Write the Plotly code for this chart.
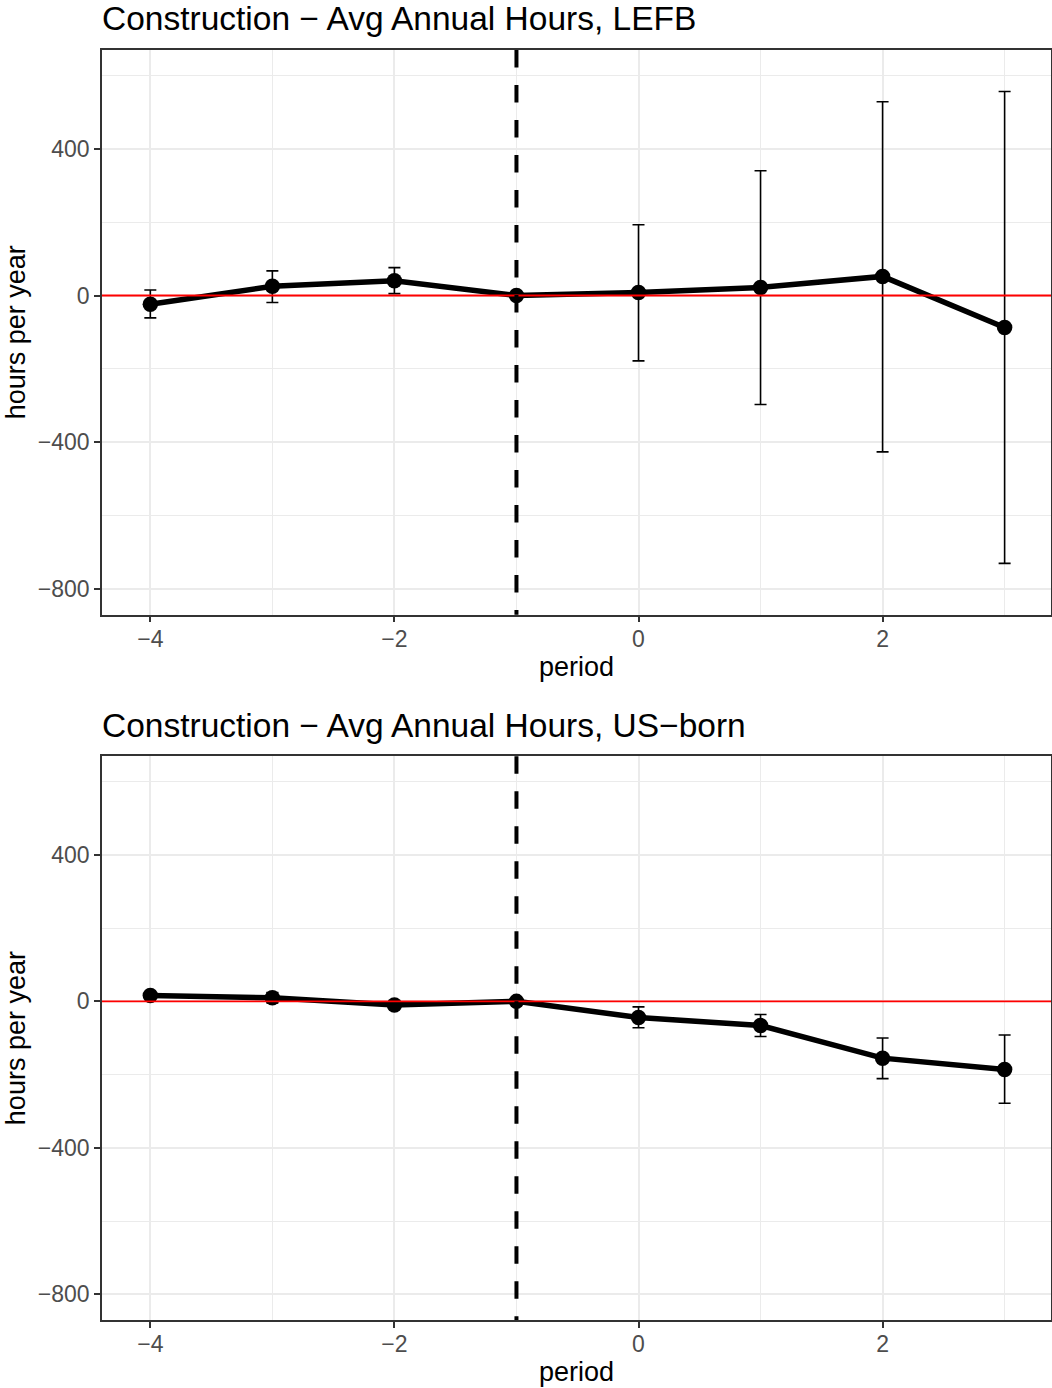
import plotly.graph_objects as go

# ---------------- data ----------------
periods = [-4, -3, -2, -1, 0, 1, 2, 3]

lefb_est = [-24, 25, 40, 0, 8, 22, 52, -87]
lefb_hi = [15, 67, 76, 0, 193, 340, 528, 556]
lefb_lo = [-61, -19, 5, 0, -178, -297, -426, -730]

usborn_est = [16, 10, -10, 0, -44, -66, -155, -186]
usborn_hi = [24, 24, 0, 0, -15, -36, -100, -92]
usborn_lo = [8, -4, -20, 0, -72, -96, -211, -278]

titles = ["Construction − Avg Annual Hours, LEFB",
          "Construction − Avg Annual Hours, US−born"]
x_title = "period"
y_title = "hours per year"

x_tickvals = [-4, -2, 0, 2]
x_ticktext = ["−4", "−2", "0", "2"]
y_tickvals = [-800, -400, 0, 400]
y_ticktext = ["−800", "−400", "0", "400"]
x_minor = [-3, -1, 1, 3]
y_minor = [-600, -200, 200, 600]

event_period = -1
zero_line = 0

x_range = [-4.396, 3.38]
y_range = [-869.8, 669]

# ---------------- figure ----------------
W, H = 1052, 1388
FONT = "Liberation Sans, Arial, sans-serif"

fig = go.Figure()

series = [(lefb_est, lefb_hi, lefb_lo), (usborn_est, usborn_hi, usborn_lo)]
for i, (est, hi, lo) in enumerate(series):
    ax = "" if i == 0 else "2"
    fig.add_trace(go.Scatter(
        x=periods, y=est, mode="lines+markers",
        line=dict(color="black", width=5.5),
        marker=dict(color="black", size=15.5),
        error_y=dict(type="data", symmetric=False,
                     array=[h - e for h, e in zip(hi, est)],
                     arrayminus=[e - l for e, l in zip(est, lo)],
                     color="black", thickness=1.6, width=6),
        xaxis="x" + ax, yaxis="y" + ax, showlegend=False, hoverinfo="skip"))

def px_x(p):
    return p / W

def px_y(p):
    return 1 - p / H

panels = [(50, 614.7), (756.3, 1320.0)]
x_dom = [px_x(102), px_x(1051)]

axis_common = dict(
    showline=True, mirror=True, linecolor="#333333", linewidth=1.5,
    ticks="outside", ticklen=6, tickwidth=1.5, tickcolor="#333333",
    tickfont=dict(family=FONT, size=23, color="#4D4D4D"),
    showgrid=True, gridcolor="#EBEBEB", gridwidth=2, zeroline=False,
)

layout = dict(
    width=W, height=H, margin=dict(l=0, r=0, t=0, b=0),
    paper_bgcolor="white", plot_bgcolor="white", showlegend=False,
    font=dict(family=FONT, color="black"),
)

shapes = []
annotations = []
for i, (top, bot) in enumerate(panels):
    ax = "" if i == 0 else "2"
    xa = dict(axis_common)
    xa.update(range=x_range, domain=x_dom, anchor="y" + ax,
              tickvals=x_tickvals, ticktext=x_ticktext, ticklabelstandoff=-3,
              minor=dict(tickvals=x_minor, showgrid=True, gridcolor="#EBEBEB",
                         gridwidth=1, ticks=""))
    ya = dict(axis_common)
    ya.update(range=y_range, domain=[px_y(bot), px_y(top)], anchor="x" + ax,
              tickvals=y_tickvals, ticktext=y_ticktext,
              minor=dict(tickvals=y_minor, showgrid=True, gridcolor="#EBEBEB",
                         gridwidth=1, ticks=""))
    layout["xaxis" + ax] = xa
    layout["yaxis" + ax] = ya

    shapes.append(dict(type="line", xref="x" + ax + " domain", yref="y" + ax,
                       x0=0, x1=1, y0=zero_line, y1=zero_line,
                       line=dict(color="red", width=1.8), layer="above"))
    shapes.append(dict(type="line", xref="x" + ax, yref="y" + ax + " domain",
                       x0=event_period, x1=event_period, y0=1, y1=0,
                       line=dict(color="black", width=4, dash="17.5px,17.5px"),
                       layer="above"))

    annotations.append(dict(text=titles[i], xref="paper", yref="paper",
                            x=px_x(100), y=px_y(top - 31),
                            xanchor="left", yanchor="middle", showarrow=False,
                            font=dict(family=FONT, size=33.5, color="black")))
    annotations.append(dict(text=x_title, xref="paper", yref="paper",
                            x=px_x(576.5), y=px_y(bot + 52),
                            xanchor="center", yanchor="middle", showarrow=False,
                            font=dict(family=FONT, size=27, color="black")))
    annotations.append(dict(text=y_title, xref="paper", yref="paper",
                            x=px_x(16), y=px_y((top + bot) / 2), textangle=-90,
                            xanchor="center", yanchor="middle", showarrow=False,
                            font=dict(family=FONT, size=27, color="black")))

layout["shapes"] = shapes
layout["annotations"] = annotations
fig.update_layout(**layout)

fig.write_html("out.html")
